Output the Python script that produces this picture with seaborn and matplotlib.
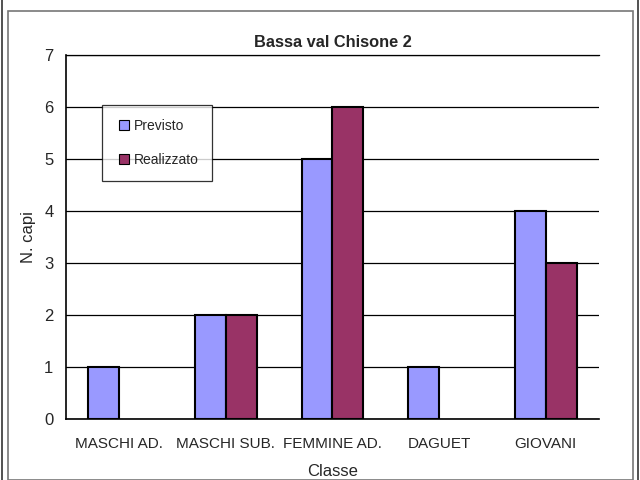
import numpy as np
import pandas as pd
import matplotlib
matplotlib.use("Agg")
import matplotlib.pyplot as plt
from matplotlib.patches import Rectangle
from matplotlib.lines import Line2D
import seaborn as sns

# ==================== Dati ====================
classi = ["MASCHI AD.", "MASCHI SUB.", "FEMMINE AD.", "DAGUET", "GIOVANI"]
previsto = [1, 2, 5, 1, 4]
realizzato = [np.nan, 2, 6, np.nan, 3]
serie = ["Previsto", "Realizzato"]
colori = {"Previsto": "#9999FF", "Realizzato": "#993366"}

df = pd.DataFrame({
    "Classe": classi * 2,
    "N. capi": previsto + realizzato,
    "Serie": [serie[0]] * len(classi) + [serie[1]] * len(classi),
})

# ==================== Grafico ====================
sns.set_style("white")
plt.rcParams["font.family"] = ["Liberation Sans", "DejaVu Sans"]

fig = plt.figure(figsize=(6.4, 4.8), dpi=100)
ax = fig.add_axes([0.103, 0.127, 0.833, 0.758])

sns.barplot(data=df, x="Classe", y="N. capi", hue="Serie", order=classi,
            hue_order=serie, palette=colori, saturation=1, width=0.58, gap=0,
            edgecolor="black", linewidth=1.5, ax=ax, zorder=3)

ax.set_ylim(0, 7)
ax.set_xlim(-0.5, len(classi) - 0.5)
ax.set_yticks(range(0, 8))
ax.grid(axis="y", color="black", linewidth=0.9, zorder=0)
ax.set_axisbelow(True)

# tick x ai bordi delle categorie
ax.set_xticks(range(len(classi)))
ax.set_xticklabels(classi, fontsize=11)
ax.set_xticks(np.arange(-0.5, len(classi)), minor=True)
ax.tick_params(axis="x", which="major", length=0, pad=13)
ax.tick_params(axis="x", which="minor", length=6, width=1, color="black", direction="out")
ax.tick_params(axis="y", length=6, width=1, color="black", direction="out", labelsize=12, pad=3)

for s in ["left", "bottom"]:
    ax.spines[s].set_color("black")
    ax.spines[s].set_linewidth(1.2)
ax.spines["top"].set_color("black")
ax.spines["top"].set_linewidth(0.9)
ax.spines["right"].set_visible(False)

ax.set_xlabel("Classe", fontsize=12, labelpad=9)
ax.set_ylabel("N. capi", fontsize=12, labelpad=6)
ax.set_title("Bassa val Chisone 2", fontsize=11.8, fontweight="bold", pad=6)

# legenda
handles = [Line2D([0], [0], marker="s", linestyle="", markersize=7.5,
                  markerfacecolor=colori[s], markeredgecolor="black",
                  markeredgewidth=0.8) for s in serie]
leg = ax.legend(handles, serie, loc="upper left", bbox_to_anchor=(0.067, 0.863),
                frameon=True, fancybox=False, fontsize=10, handletextpad=0.1,
                labelspacing=1.45, borderpad=1.0, handlelength=1.2,
                borderaxespad=0)
leg.get_frame().set_edgecolor("black")
leg.get_frame().set_linewidth(0.9)
leg.set_zorder(5)

# cornice
fig.patches.append(Rectangle((8 / 640, 0.5 / 480), 625 / 640, 469 / 480,
                             transform=fig.transFigure, fill=False,
                             edgecolor="#777777", linewidth=1.2))
fig.lines.append(Line2D([2 / 640, 2 / 640], [0, 1], transform=fig.transFigure,
                        color="#333333", linewidth=1.2))
fig.lines.append(Line2D([638 / 640, 638 / 640], [0, 1], transform=fig.transFigure,
                        color="#333333", linewidth=1.2))

fig.savefig("out.png", dpi=100)
